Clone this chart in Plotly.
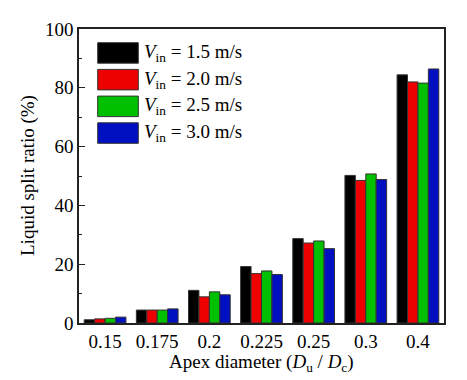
import plotly.graph_objects as go

categories = ["0.15", "0.175", "0.2", "0.225", "0.25", "0.3", "0.4"]
series_names = ["1.5", "2.0", "2.5", "3.0"]
v15 = [1.1, 4.4, 11.1, 19.2, 28.7, 50.2, 84.4]
v20 = [1.4, 4.4, 8.9, 16.8, 27.2, 48.5, 82.0]
v25 = [1.6, 4.4, 10.6, 17.7, 27.9, 50.7, 81.6]
v30 = [2.0, 4.8, 9.6, 16.5, 25.3, 48.8, 86.4]
colors = ["#000000", "#ee0000", "#00c000", "#0010c0"]

FONT = "Liberation Serif, Times New Roman, serif"
OFF = 8  # default page body margin in the browser
W, H = 467 - OFF, 380 - OFF
# plot area in screenshot pixels
PX0, PX1, PY0, PY1 = 79, 444, 29, 323
L, R, T, B = PX0 - OFF, W - (PX1 - OFF), PY0 - OFF, H - (PY1 - OFF)
PW, PH = PX1 - PX0, PY1 - PY0


def px(x):
    return (x - PX0) / PW


def py(y):
    return (PY1 - y) / PH


fig = go.Figure()
for name, vals, col in zip(series_names, [v15, v20, v25, v30], colors):
    fig.add_trace(go.Bar(
        x=categories, y=vals, name=name,
        marker=dict(color=col, line=dict(color="#333333", width=1)),
        showlegend=False,
    ))

# custom legend with large swatches
row_h = 26.7
sw_h = 20.5
for i, (name, col) in enumerate(zip(series_names, colors)):
    yt = 42.7 + i * row_h
    fig.add_shape(type="rect", xref="paper", yref="paper",
                  x0=px(97.7), x1=px(138.3), y0=py(yt + sw_h), y1=py(yt),
                  fillcolor=col, line=dict(color="#333333", width=1))
    fig.add_annotation(xref="paper", yref="paper", x=px(142), y=py(yt + sw_h / 2),
                       xanchor="left", yanchor="middle", showarrow=False,
                       text=f"<i>V</i><sub>in</sub> = {name} m/s",
                       font=dict(family=FONT, size=19, color="black"))

# axis titles
fig.add_annotation(xref="paper", yref="paper", x=0.5, y=py(363),
                   xanchor="center", yanchor="middle", showarrow=False,
                   text="Apex diameter (<i>D</i><sub>u</sub> / <i>D</i><sub>c</sub>)",
                   font=dict(family=FONT, size=19, color="black"))
fig.add_annotation(xref="paper", yref="paper", x=px(28), y=py(176),
                   xanchor="center", yanchor="middle", showarrow=False, textangle=-90,
                   text="Liquid split ratio (%)",
                   font=dict(family=FONT, size=19, color="black"))

fig.update_layout(
    width=W, height=H,
    margin=dict(l=L, r=R, t=T, b=B),
    paper_bgcolor="white", plot_bgcolor="white",
    barmode="group", bargap=0.2, bargroupgap=0,
    font=dict(family=FONT, size=19, color="black"),
)
fig.update_xaxes(
    automargin=False,
    showline=True, linecolor="#222222", linewidth=1.5, mirror=True,
    ticks="", showgrid=False,
    tickfont=dict(family=FONT, size=19),
)
fig.update_yaxes(
    automargin=False,
    range=[0, 100], dtick=20, showline=True, linecolor="#222222", linewidth=1.5,
    mirror=True, ticks="inside", ticklen=6, tickwidth=1.2, tickcolor="#222222",
    showgrid=False, zeroline=False,
    minor=dict(ticks="inside", ticklen=3, dtick=10, tickcolor="#222222", showgrid=False),
    tickfont=dict(family=FONT, size=19),
)

fig.write_html("out.html")
